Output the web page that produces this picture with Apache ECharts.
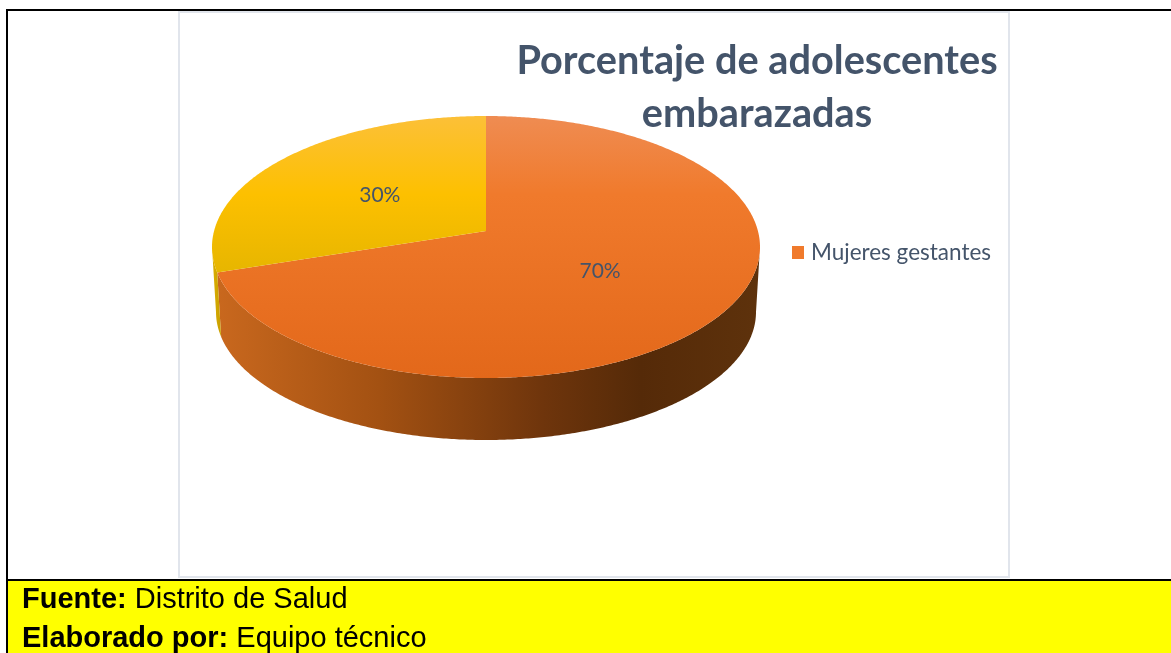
<!DOCTYPE html>
<html><head><meta charset="utf-8">
<style>html,body{margin:0;padding:0;background:#fff;overflow:hidden}#c{width:1171px;height:653px}</style>
<script src="https://cdn.jsdelivr.net/npm/echarts@6/dist/echarts.min.js"></script>
</head><body><div id="c"></div>
<script>
const categories = ['Mujeres gestantes', 'Otras'];
const values = [70, 30];
const valueLabels = ['70%', '30%'];
const titleText = 'Porcentaje de adolescentes\nembarazadas';
const sourceName = 'Distrito de Salud';
const authorName = 'Equipo técnico';

const total = values.reduce((a, b) => a + b, 0);
const TOP = { cx: 486, cy: 247, rx: 274, ry: 131 };
const BOT = { cx: 486, cy: 312, rx: 270, ry: 128 };
const TILT = 0.122; // perspective shift of the pie's centre

function proj(rad, deg) {
  const t = deg * Math.PI / 180, x = rad * Math.sin(t), y = rad * Math.cos(t);
  const d = 1 + TILT * y;
  return [x * Math.sqrt(1 - TILT * TILT) / d, (y + TILT) / d];
}
const toScreen = (p, e) => [e.cx + e.rx * p[0], e.cy - e.ry * p[1]];
const grad = (x, y, x2, y2, stops) => ({
  type: 'linear', x, y, x2, y2, global: true,
  colorStops: stops.map(s => ({ offset: s[0], color: s[1] }))
});
const topFill = [
  grad(0, 116, 0, 378, [[0, '#EF8C52'], [0.3, '#F07A2C'], [1, '#E3681A']]),
  grad(0, 116, 0, 378, [[0, '#FCC038'], [0.3, '#FDC000'], [0.62, '#E5B500'], [1, '#D9AA00']])
];
const wallFill = [
  grad(216, 0, 760, 0, [[0, '#C9681E'], [0.3, '#A35112'], [0.6, '#6F350C'], [0.78, '#552A08'], [1, '#5E320C']]),
  grad(212, 0, 220, 0, [[0, '#DDB000'], [1, '#C9A000']])
];

function renderSlice(params, api) {
  const i = params.dataIndex;
  const start = values.slice(0, i).reduce((a, b) => a + b, 0) / total * 360;
  const end = start + api.value(0) / total * 360;
  const arc = [], front = [];
  for (let d = start; d <= end + 1e-6; d += 0.5) {
    const p = proj(1, d);
    arc.push(toScreen(p, TOP));
    if (p[1] <= 0.002) front.push(p);
  }
  const apex = toScreen(proj(0, 0), TOP);
  const children = [];
  if (front.length > 1) {
    const wall = front.map(p => toScreen(p, TOP))
      .concat(front.slice().reverse().map(p => toScreen(p, BOT)));
    children.push({ type: 'polygon', shape: { points: wall }, style: { fill: wallFill[i] } });
  }
  children.push({ type: 'polygon', shape: { points: [apex].concat(arc) }, style: { fill: topFill[i] } });
  const mid = toScreen(proj(0.5, (start + end) / 2), TOP);
  children.push({
    type: 'text', x: mid[0], y: mid[1] + 1,
    style: { text: valueLabels[i], fill: '#44546A', fontFamily: 'Lato', fontSize: 21, align: 'center', verticalAlign: 'middle' }
  });
  return { type: 'group', children };
}

const box = (x, y, width, height, fill, z) => ({ type: 'rect', z: z || 0, shape: { x, y, width, height }, style: { fill } });
const footRich = {
  b: { fontFamily: 'Liberation Sans', fontWeight: 'bold', fontSize: 29, fill: '#000' },
  n: { fontFamily: 'Liberation Sans', fontSize: 29, fill: '#000' }
};

const chart = echarts.init(document.getElementById('c'), null, { renderer: 'canvas' });
chart.setOption({
  animation: false,
  backgroundColor: '#fff',
  title: {
    text: titleText, left: 752, top: 30, textAlign: 'center',
    textStyle: { fontFamily: 'Lato', fontWeight: 'bold', fontSize: 39.7, lineHeight: 53, color: '#44546A' }
  },
  legend: {
    left: 787, top: 236, itemWidth: 12, itemHeight: 13, itemGap: 6, icon: 'rect',
    data: [{ name: categories[0], itemStyle: { color: '#F07A2C' } }],
    textStyle: { fontFamily: 'Lato', fontSize: 22.5, color: '#44546A', padding: [0, 0, 0, 2] }
  },
  graphic: [
    box(178, 11, 832, 567, '#E1E5EC'),
    box(180, 13, 828, 563, '#FFFFFF'),
    box(6, 9, 1165, 2, '#000000', 1),
    box(6, 9, 2, 644, '#000000', 1),
    box(8, 579, 1163, 2, '#000000', 1),
    box(8, 581, 1163, 72, '#FFFF00', 1),
    {
      type: 'text', z: 2, x: 22, y: 600,
      style: { text: '{b|Fuente:} {n|' + sourceName + '}', verticalAlign: 'middle', fontSize: 29, fontFamily: 'Liberation Sans', rich: footRich }
    },
    {
      type: 'text', z: 2, x: 22, y: 639,
      style: { text: '{b|Elaborado por:} {n|' + authorName + '}', verticalAlign: 'middle', fontSize: 29, fontFamily: 'Liberation Sans', rich: footRich }
    }
  ],
  series: [{
    type: 'custom', name: categories[0], coordinateSystem: 'none',
    renderItem: renderSlice, silent: true,
    data: categories.map((c, i) => ({ name: c, value: [values[i]] }))
  }]
});
</script></body></html>
